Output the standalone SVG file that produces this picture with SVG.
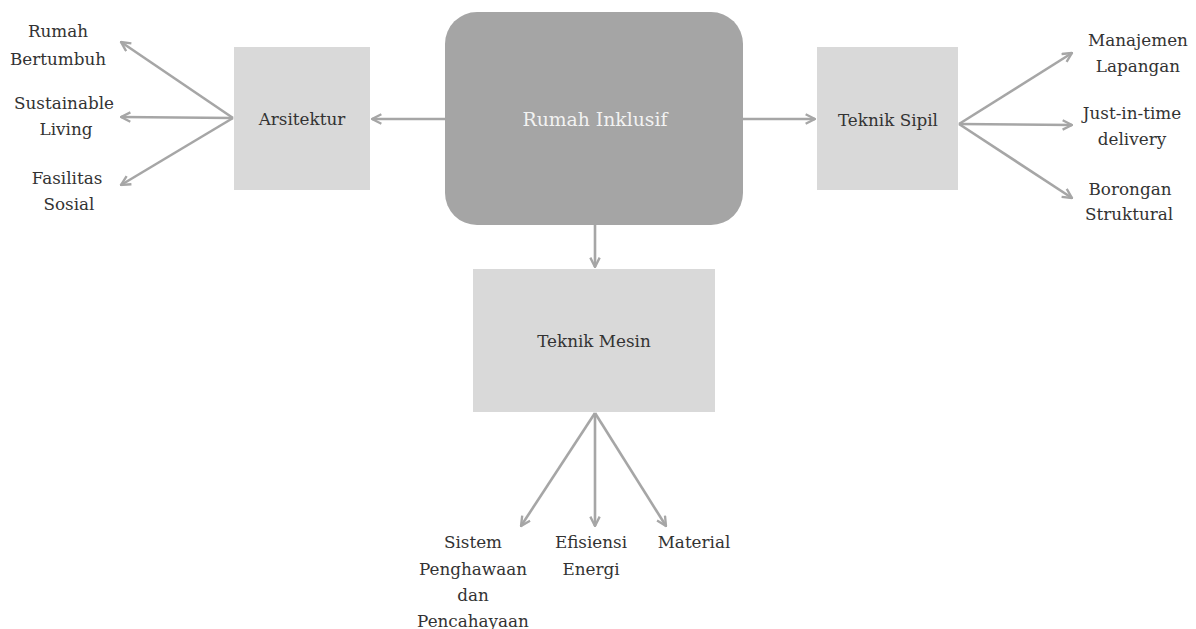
<svg xmlns="http://www.w3.org/2000/svg" width="1196" height="629" viewBox="0 0 1196 629">
<style>
.box{fill:#d9d9d9}
.main{fill:#a5a5a5}
.t{font-family:"DejaVu Serif","Liberation Serif",serif;font-size:16.8px;fill:#333;text-anchor:middle}
.tm{font-family:"DejaVu Serif","Liberation Serif",serif;font-size:18.8px;fill:#f2f2f2;text-anchor:middle}
.c{stroke:#a6a6a6;stroke-width:2.6;fill:none;marker-end:url(#ah)}
</style>
<defs>
<marker id="ah" viewBox="0 0 10 10" refX="9" refY="5" markerWidth="4.5" markerHeight="4.5" orient="auto" markerUnits="strokeWidth">
<path d="M1,1 L9,5 L1,9" fill="none" stroke="#a6a6a6" stroke-width="2"/>
</marker>
</defs>
<rect width="1196" height="629" fill="#fff"/>
<g id="connectors">
<line class="c" x1="445" y1="119" x2="372" y2="119"/>
<line class="c" x1="743" y1="119" x2="815" y2="119"/>
<line class="c" x1="595" y1="225" x2="595" y2="267"/>
<line class="c" x1="233" y1="118" x2="121" y2="42"/>
<line class="c" x1="233" y1="118" x2="121" y2="117"/>
<line class="c" x1="233" y1="118" x2="121" y2="185"/>
<line class="c" x1="959" y1="124" x2="1072" y2="53"/>
<line class="c" x1="959" y1="124" x2="1072" y2="125"/>
<line class="c" x1="959" y1="124" x2="1072" y2="198"/>
<line class="c" x1="595" y1="413" x2="521" y2="526"/>
<line class="c" x1="595" y1="413" x2="595" y2="526"/>
<line class="c" x1="595" y1="413" x2="666" y2="526"/>
</g>
<g id="rumah-inklusif">
<rect class="main" x="445" y="12" width="298" height="213" rx="32"/>
<text class="tm" x="595" y="126">Rumah Inklusif</text>
</g>
<g id="arsitektur">
<rect class="box" x="234" y="47" width="136" height="143"/>
<text class="t" x="302" y="125">Arsitektur</text>
</g>
<g id="teknik-sipil">
<rect class="box" x="817" y="47" width="141" height="143"/>
<text class="t" x="888" y="126">Teknik Sipil</text>
</g>
<g id="teknik-mesin">
<rect class="box" x="473" y="269" width="242" height="143"/>
<text class="t" x="594" y="347">Teknik Mesin</text>
</g>
<g id="rumah-bertumbuh"><text class="t" x="58" y="37">Rumah</text><text class="t" x="58" y="65">Bertumbuh</text></g>
<g id="sustainable-living"><text class="t" x="64" y="109">Sustainable</text><text class="t" x="66" y="135">Living</text></g>
<g id="fasilitas-sosial"><text class="t" x="67" y="184">Fasilitas</text><text class="t" x="69" y="210">Sosial</text></g>
<g id="manajemen-lapangan"><text class="t" x="1138" y="46">Manajemen</text><text class="t" x="1138" y="72">Lapangan</text></g>
<g id="just-in-time"><text class="t" x="1132" y="119">Just-in-time</text><text class="t" x="1132" y="145">delivery</text></g>
<g id="borongan-struktural"><text class="t" x="1130" y="195">Borongan</text><text class="t" x="1129" y="220">Struktural</text></g>
<g id="sistem-penghawaan"><text class="t" x="473" y="548">Sistem</text><text class="t" x="473" y="575">Penghawaan</text><text class="t" x="473" y="601">dan</text><text class="t" x="473" y="627">Pencahayaan</text></g>
<g id="efisiensi-energi"><text class="t" x="591" y="548">Efisiensi</text><text class="t" x="591" y="575">Energi</text></g>
<g id="material"><text class="t" x="694" y="548">Material</text></g>
</svg>
